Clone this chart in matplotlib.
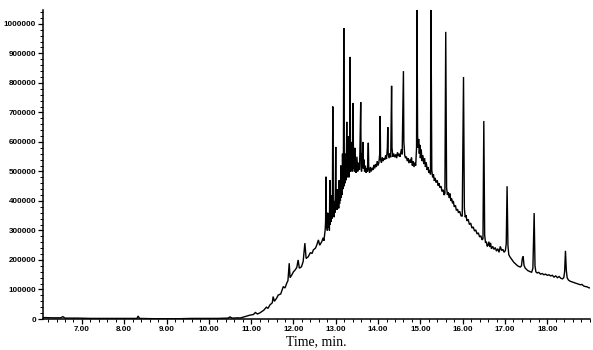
import numpy as np
import matplotlib
matplotlib.use("Agg")
import matplotlib.pyplot as plt
from matplotlib.ticker import MultipleLocator, FixedLocator

# ---- data (time in min, abundance in thousands of counts) ----
t_flat = [6.08, 6.3, 6.5, 6.55, 6.6, 6.9, 7.2, 7.5, 7.8, 8.1, 8.3, 8.33, 8.36,
          8.7, 9.0, 9.3, 9.6, 9.9, 10.2, 10.45, 10.5, 10.55, 10.7, 10.735, 10.85]
i_flat = [5, 4, 4, 8, 3, 3, 2, 2, 2, 2, 2, 10, 2,
          1, 1, 1, 2, 2, 2, 3, 7, 3, 4, 3, 8]

t_rise = [10.97, 11.05, 11.1, 11.15, 11.21, 11.3, 11.36, 11.4, 11.44, 11.5, 11.52,
          11.55, 11.6, 11.64, 11.7, 11.76, 11.8, 11.84, 11.87, 11.90, 11.92, 11.96,
          12.0, 12.04, 12.08, 12.11, 12.14, 12.19, 12.23, 12.27, 12.30, 12.35, 12.40,
          12.44, 12.47, 12.52, 12.55, 12.59, 12.62, 12.67, 12.70, 12.72, 12.75]
i_rise = [13, 15, 22, 17, 21, 30, 40, 36, 47, 55, 76,
          60, 70, 81, 85, 110, 105, 121, 130, 189, 140, 149,
          160, 166, 175, 200, 172, 177, 195, 257, 205, 211, 225,
          222, 234, 240, 250, 268, 250, 262, 275, 265, 302]

t_cluster = [12.76, 12.77, 12.78, 12.79, 12.80, 12.81, 12.82, 12.83, 12.84, 12.85,
             12.86, 12.87, 12.88, 12.89, 12.90, 12.91, 12.92, 12.93, 12.94, 12.95,
             12.96, 12.97, 12.98, 12.99, 13.00, 13.01, 13.02, 13.03, 13.04, 13.05,
             13.06, 13.07, 13.08, 13.09, 13.10, 13.11, 13.12, 13.13, 13.14, 13.15,
             13.16, 13.17, 13.18, 13.19, 13.20, 13.21, 13.22, 13.23, 13.24, 13.25,
             13.26, 13.27, 13.28, 13.29, 13.30, 13.31, 13.32, 13.33, 13.34, 13.35,
             13.36, 13.37, 13.38, 13.39, 13.40, 13.41, 13.42, 13.43, 13.44, 13.45,
             13.46, 13.47, 13.48, 13.50, 13.52, 13.54, 13.56, 13.57, 13.59, 13.60,
             13.61, 13.62, 13.63, 13.64, 13.65, 13.67, 13.68, 13.70, 13.72, 13.74,
             13.75, 13.77, 13.78, 13.80, 13.82, 13.84, 13.86, 13.88, 13.90, 13.92,
             13.94, 13.96, 13.98, 14.00, 14.02, 14.04, 14.05, 14.06, 14.08, 14.10,
             14.12, 14.14, 14.16, 14.18, 14.20, 14.22, 14.23, 14.24, 14.26, 14.28,
             14.30, 14.32, 14.33, 14.35, 14.37, 14.40, 14.42, 14.44, 14.46, 14.48,
             14.50, 14.52, 14.55, 14.57, 14.60, 14.61, 14.63, 14.65, 14.67, 14.69,
             14.71, 14.73, 14.75, 14.77, 14.79, 14.81, 14.83, 14.85, 14.87, 14.89,
             14.91]
i_cluster = [330, 482, 310, 340, 300, 360, 347, 310, 330, 300,
             471, 320, 350, 330, 420, 340, 360, 720, 350, 380,
             345, 400, 360, 430, 583, 380, 400, 370, 440, 380,
             410, 375, 470, 390, 430, 400, 520, 410, 450, 420,
             560, 440, 470, 986, 450, 500, 460, 560, 470, 520,
             668, 480, 540, 490, 620, 480, 530, 500, 888, 500,
             560, 510, 600, 500, 540, 732, 510, 560, 500, 580,
             510, 530, 495, 550, 500, 530, 505, 560, 735, 520,
             500, 560, 520, 600, 510, 540, 500, 520, 495, 510,
             500, 597, 510, 495, 515, 500, 512, 505, 522, 510,
             525, 515, 535, 520, 530, 560, 688, 540, 530, 548,
             535, 545, 540, 555, 542, 580, 650, 560, 545, 562,
             548, 790, 580, 550, 560, 548, 558, 545, 565, 552,
             560, 550, 575, 558, 840, 600, 555, 545, 550, 535,
             545, 528, 540, 530, 548, 520, 535, 515, 530, 520,
             580]

t_tail = [14.92, 14.935, 14.95, 14.96, 14.975, 14.99, 15.00, 15.02, 15.04, 15.06,
          15.08, 15.10, 15.12, 15.14, 15.16, 15.18, 15.20, 15.22, 15.24, 15.25,
          15.27, 15.29, 15.31, 15.33, 15.35, 15.37, 15.40, 15.42, 15.44, 15.46,
          15.49, 15.51, 15.54, 15.56, 15.58, 15.60, 15.62, 15.64, 15.66, 15.68,
          15.70, 15.72, 15.74, 15.76, 15.78, 15.80, 15.83, 15.85, 15.88, 15.90,
          15.93, 15.96, 15.99, 16.02, 16.04, 16.06, 16.08, 16.10, 16.13, 16.16,
          16.19, 16.22, 16.25, 16.28, 16.31, 16.34, 16.37, 16.40, 16.43, 16.46,
          16.48, 16.50, 16.52, 16.54, 16.56, 16.58, 16.60, 16.62, 16.64, 16.66,
          16.68, 16.71, 16.74, 16.77, 16.80, 16.83, 16.86, 16.89, 16.92, 16.95,
          16.98, 17.01, 17.03, 17.05, 17.07, 17.09, 17.12, 17.15, 17.18, 17.21,
          17.24, 17.27, 17.30, 17.33, 17.36, 17.39, 17.41, 17.43, 17.45, 17.48,
          17.51, 17.54, 17.57, 17.60, 17.63, 17.66, 17.69, 17.71, 17.73, 17.76,
          17.80, 17.84, 17.88, 17.92, 17.96, 18.00, 18.04, 18.08, 18.12, 18.16,
          18.20, 18.24, 18.28, 18.32, 18.36, 18.39, 18.41, 18.43, 18.45, 18.47,
          18.50, 18.54, 18.58, 18.62, 18.66, 18.70, 18.74, 18.78, 18.82, 18.86,
          18.90, 18.94, 18.98, 19.02]
i_tail = [1100, 620, 580, 610, 560, 590, 545, 575, 535, 555,
          525, 545, 515, 530, 505, 515, 495, 505, 490, 1100,
          505, 480, 490, 468, 478, 462, 470, 452, 460, 445,
          450, 432, 438, 420, 425, 973, 445, 420, 430, 410,
          425, 400, 408, 392, 400, 380, 385, 368, 372, 360,
          365, 350, 348, 820, 375, 345, 352, 332, 338, 320,
          325, 308, 312, 298, 302, 288, 292, 278, 282, 268,
          272, 671, 285, 258, 262, 246, 250, 262, 244, 258,
          238, 246, 236, 242, 230, 238, 226, 246, 232, 236,
          226, 232, 255, 450, 250, 218, 210, 204, 198, 192,
          188, 184, 180, 178, 176, 180, 205, 212, 182, 172,
          168, 164, 162, 160, 158, 172, 359, 180, 160, 156,
          158, 152, 154, 150, 152, 148, 150, 146, 148, 142,
          146, 140, 144, 138, 136, 140, 160, 231, 165, 140,
          132, 128, 126, 124, 122, 120, 118, 116, 117, 112,
          110, 109, 106, 105]

x_major = [7, 8, 9, 10, 11, 12, 13, 14, 15, 16, 17, 18]
x_labels = ["7.00", "8.00", "9.00", "10.00", "11.00", "12.00", "13.00",
            "14.00", "15.00", "16.00", "17.00", "18.00"]
y_major = [0, 100000, 200000, 300000, 400000, 500000, 600000, 700000,
           800000, 900000, 1000000]
y_labels = ["0", "100000", "200000", "300000", "400000", "500000", "600000",
            "700000", "800000", "900000", "1000000"]
x_label = "Time, min."

# ---- assemble ----
time = np.array(t_flat + t_rise + t_cluster + t_tail)
abundance = np.array(i_flat + i_rise + i_cluster + i_tail) * 1000.0

fig = plt.figure(figsize=(5.93, 3.5), dpi=100)
ax = fig.add_axes([43 / 593, 31 / 350, (590 - 43) / 593, (319 - 10) / 350])
ax.plot(time, abundance, color="black", lw=1.0, solid_joinstyle="miter")

ax.set_xlim(6.08, 19.01)
ax.set_ylim(0, 1047000)

for s in ("top", "right"):
    ax.spines[s].set_visible(False)
for s in ("left", "bottom"):
    ax.spines[s].set_linewidth(1.1)

ax.xaxis.set_major_locator(FixedLocator(x_major))
ax.set_xticklabels(x_labels)
ax.xaxis.set_minor_locator(MultipleLocator(0.2))
ax.yaxis.set_major_locator(FixedLocator(y_major))
ax.set_yticklabels(y_labels)
ax.yaxis.set_minor_locator(MultipleLocator(20000))

for lab in ax.get_xticklabels() + ax.get_yticklabels():
    lab.set_fontfamily("Liberation Sans")
    lab.set_fontweight("bold")
    lab.set_fontsize(5.8)

ax.tick_params(axis="both", which="major", length=3.5, width=0.9, direction="out", pad=1.5)
ax.tick_params(axis="both", which="minor", length=2, width=0.7, direction="out")

ax.set_xlabel(x_label, family="Liberation Serif", size=10, labelpad=1.5)

fig.savefig("out.png", dpi=100, facecolor="white")
